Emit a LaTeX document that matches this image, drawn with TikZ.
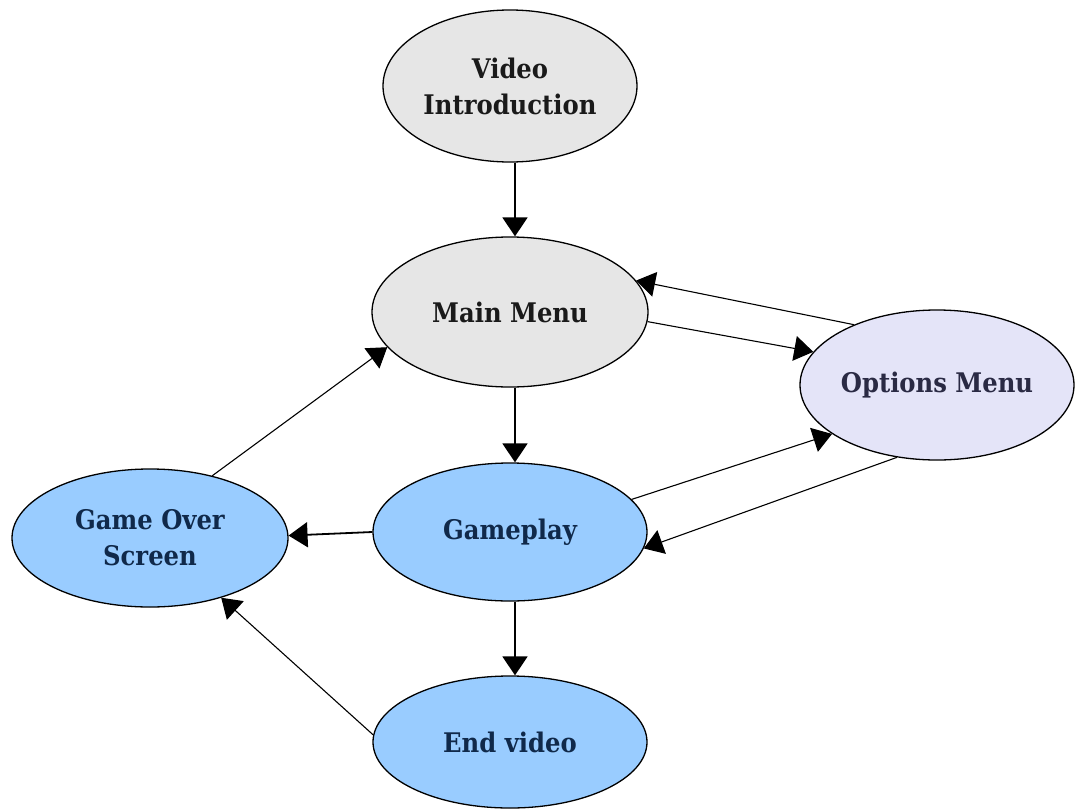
\documentclass[tikz,border=0pt]{standalone}
\usepackage{fontspec}
\setmainfont{DejaVu Serif Condensed}
\usetikzlibrary{shapes.geometric,arrows.meta}
\definecolor{grayfill}{HTML}{E6E6E6}
\definecolor{lavfill}{HTML}{E4E4F8}
\definecolor{bluefill}{HTML}{99CCFF}
\definecolor{navytext}{HTML}{10294A}
\definecolor{slatetext}{HTML}{2A2A44}
\definecolor{darktext}{HTML}{1A1A1A}
\tikzset{
  state/.style={ellipse, draw=black, line width=1.3pt, inner sep=0pt,
    font=\fontsize{27}{36}\selectfont\bfseries, align=center},
  graystate/.style={state, fill=grayfill, text=darktext},
  lavstate/.style={state, fill=lavfill, text=slatetext},
  bluestate/.style={state, fill=bluefill, text=navytext},
  conn/.style={draw=black, line width=1.8pt, -{Triangle[length=19pt,width=25pt]}},
  thinconn/.style={conn, line width=1.1pt}
}
\begin{document}
\begin{tikzpicture}[x=1pt,y=-1pt]
\useasboundingbox (0,0) rectangle (1077,809);
\node[graystate, minimum width=254pt, minimum height=152pt] (vi) at (510,86) {Video\\Introduction};
\node[graystate, minimum width=276pt, minimum height=150pt] (mm) at (510,312) {Main Menu};
\node[lavstate, minimum width=274pt, minimum height=150pt] (om) at (937,385) {Options Menu};
\node[bluestate, minimum width=274pt, minimum height=138pt] (gp) at (510,532) {Gameplay};
\node[bluestate, minimum width=276pt, minimum height=138pt] (go) at (150,538) {Game Over\\Screen};
\node[bluestate, minimum width=274pt, minimum height=132pt] (ev) at (510,742) {End video};

\draw[conn] ([xshift=5pt]vi.south) -- ([xshift=5pt]mm.north);
\draw[thinconn] (om.144.1) -- (mm.14.7);
\draw[thinconn] (mm.-4.2) -- (om.165);
\draw[conn] ([xshift=5pt]mm.south) -- ([xshift=5pt]gp.north);
\draw[thinconn] (gp.15.2) -- (om.205);
\draw[thinconn] (om.241.9) -- (gp.353.9);
\draw[conn] (gp.180) -- (go.1.2);
\draw[thinconn] (go.45.4) -- (mm.196.3);
\draw[thinconn] (ev.177) -- (go.320.7);
\draw[conn] ([xshift=5pt]gp.south) -- ([xshift=5pt]ev.north);
\end{tikzpicture}
\end{document}
